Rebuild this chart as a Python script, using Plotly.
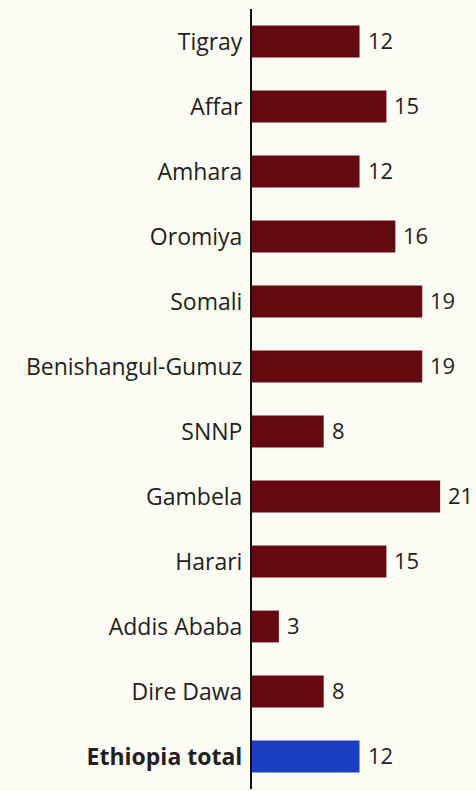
import plotly.graph_objects as go

regions = ["Tigray", "Affar", "Amhara", "Oromiya", "Somali", "Benishangul-Gumuz",
           "SNNP", "Gambela", "Harari", "Addis Ababa", "Dire Dawa", "Ethiopia total"]
values = [12, 15, 12, 16, 19, 19, 8, 21, 15, 3, 8, 12]

RED = "#640B12"
BLUE = "#1B3DC2"
INK = "#231F20"
BG = "#FDFCF4"

colors = [BLUE if r == "Ethiopia total" else RED for r in regions]
ticktext = ["<b>%s</b>" % r if r == "Ethiopia total" else r for r in regions]

fig = go.Figure(go.Bar(
    x=values, y=regions, orientation="h",
    marker=dict(color=colors, line=dict(width=0)),
    width=0.49,
    cliponaxis=False,
))

for r, v in zip(regions, values):
    fig.add_annotation(x=v, y=r, text=str(v), showarrow=False,
                       xanchor="left", xshift=6, yshift=2,
                       font=dict(size=22, color=INK, family="Open Sans"))

fig.update_layout(
    width=476, height=791,
    paper_bgcolor=BG, plot_bgcolor=BG,
    margin=dict(l=252, r=0, t=9, b=2),
    font=dict(family="Open Sans", size=23, color=INK),
    showlegend=False,
)
fig.update_xaxes(range=[0, 25], visible=False)
fig.update_yaxes(
    categoryorder="array", categoryarray=regions, autorange="reversed",
    tickmode="array", tickvals=regions, ticktext=ticktext,
    showline=True, linecolor="#111111", linewidth=2,
    ticks="", showgrid=False, ticklabelstandoff=3,
)

# the page's default body margin would shift the chart by 8px
fig.write_html("out.html", config={"displayModeBar": False},
               post_script="document.body.style.margin='0';")
